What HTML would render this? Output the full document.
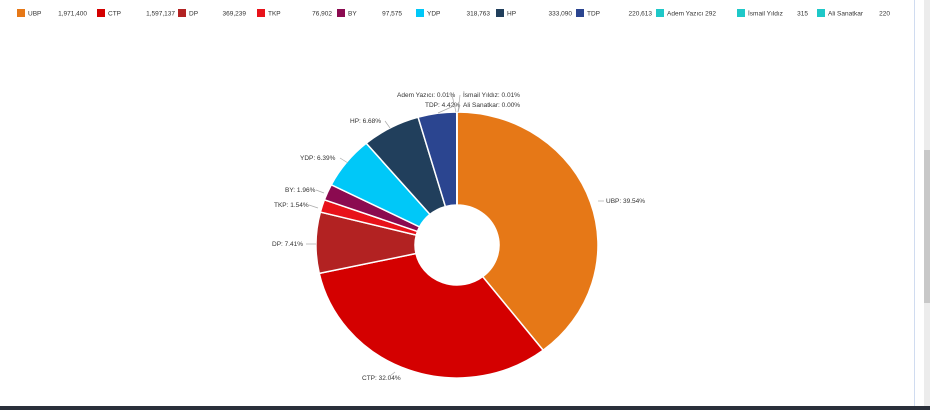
<!DOCTYPE html>
<html><head><meta charset="utf-8"><style>
html,body{margin:0;padding:0;background:#fff;}
body{width:930px;height:410px;position:relative;overflow:hidden;font-family:"Liberation Sans",sans-serif;}
svg text{font-family:"Liberation Sans",sans-serif;font-size:6.5px;fill:#333;}
</style></head><body>
<svg id="s" width="930" height="410" viewBox="0 0 930 410" xmlns="http://www.w3.org/2000/svg">
<rect x="914" y="0" width="1" height="410" fill="#d0dcf0"/>
<rect x="924" y="0" width="6" height="410" fill="#ececec"/>
<rect x="924" y="150" width="6" height="153" fill="#c8c8c8"/>
<rect x="0" y="406" width="930" height="4" fill="#2a2f3a"/>
<g id="leg"></g>
<g id="pie"></g>
<g id="lab"></g>
</svg>
<script>
var NS="http://www.w3.org/2000/svg";
function el(t,a,p,txt){var e=document.createElementNS(NS,t);for(var k in a)e.setAttribute(k,a[k]);if(txt!=null)e.textContent=txt;p.appendChild(e);return e;}
var leg=document.getElementById('leg');
var L=[["UBP","#e67817",17,87,"1,971,400"],["CTP","#d40000",97,175,"1,597,137"],["DP","#b22222",178,246,"369,239"],["TKP","#e8121a",257,332,"76,902"],["BY","#8b0a50",337,402,"97,575"],["YDP","#00c8f8",416,490,"318,763"],["HP","#213f5c",496,572,"333,090"],["TDP","#2b4590",576,652,"220,613"],["Adem Yazıcı","#1ec8c8",656,716,"292"],["İsmail Yıldız","#1ec8c8",737,808,"315"],["Ali Sanatkar","#1ec8c8",817,890,"220"]];
L.forEach(function(d){el('rect',{x:d[2],y:9,width:8,height:8,fill:d[1]},leg);el('text',{x:d[2]+11,y:15.5},leg,d[0]);el('text',{x:d[3],y:15.5,'text-anchor':'end'},leg,d[4]);});
var P=[[39.54,"#e67817"],[32.04,"#d40000"],[7.41,"#b22222"],[1.54,"#e8121a"],[1.96,"#8b0a50"],[6.39,"#00c8f8"],[6.68,"#213f5c"],[4.42,"#2b4590"],[0.01,"#1ec8c8"],[0.01,"#1ec8c8"],[0.01,"#1ec8c8"]];
var cx=457,cy=245,rx=141,ry=133,ix=42,iy=40,a=0,tot=100.01,g=document.getElementById('pie');
function pt(ang,r1,r2){var t=ang/tot*2*Math.PI;return [cx+r1*Math.sin(t),cy-r2*Math.cos(t)];}
P.forEach(function(d){var a2=a+d[0];var lg=d[0]>tot/2?1:0;var p1=pt(a,rx,ry),p2=pt(a2,rx,ry),p3=pt(a2,ix,iy),p4=pt(a,ix,iy);
el('path',{d:"M"+p1+" A"+rx+" "+ry+" 0 "+lg+" 1 "+p2+" L"+p3+" A"+ix+" "+iy+" 0 "+lg+" 0 "+p4+"Z",fill:d[1],stroke:"#fff","stroke-width":1.5},g);a=a2;});
var lab=document.getElementById('lab');
var T=[["UBP: 39.54%",606,203,"start",[598,201,604,201]],["CTP: 32.04%",362,380,"start",[390,376,395,372]],["DP: 7.41%",272,246,"start",[306,244,316,244]],["TKP: 1.54%",274,207,"start",[309,205,318,208]],["BY: 1.96%",285,192,"start",[316,190,324,193]],["YDP: 6.39%",300,160,"start",[340,158,348,163]],["HP: 6.68%",350,123,"start",[385,121,390,128]],["TDP: 4.42%",425,107,"start",[456,105,438,113]],["Adem Yazıcı: 0.01%",397,97,"start",[452,95,456,112]],["İsmail Yıldız: 0.01%",463,97,"start",[460,95,458,112]],["Ali Sanatkar: 0.00%",463,107,"start",[460,105,458,112]]];
T.forEach(function(d){el('text',{x:d[1],y:d[2],'text-anchor':d[3]},lab,d[0]);var l=d[4];el('line',{x1:l[0],y1:l[1],x2:l[2],y2:l[3],stroke:"#aaa","stroke-width":0.7},lab);});
</script>
</body></html>
